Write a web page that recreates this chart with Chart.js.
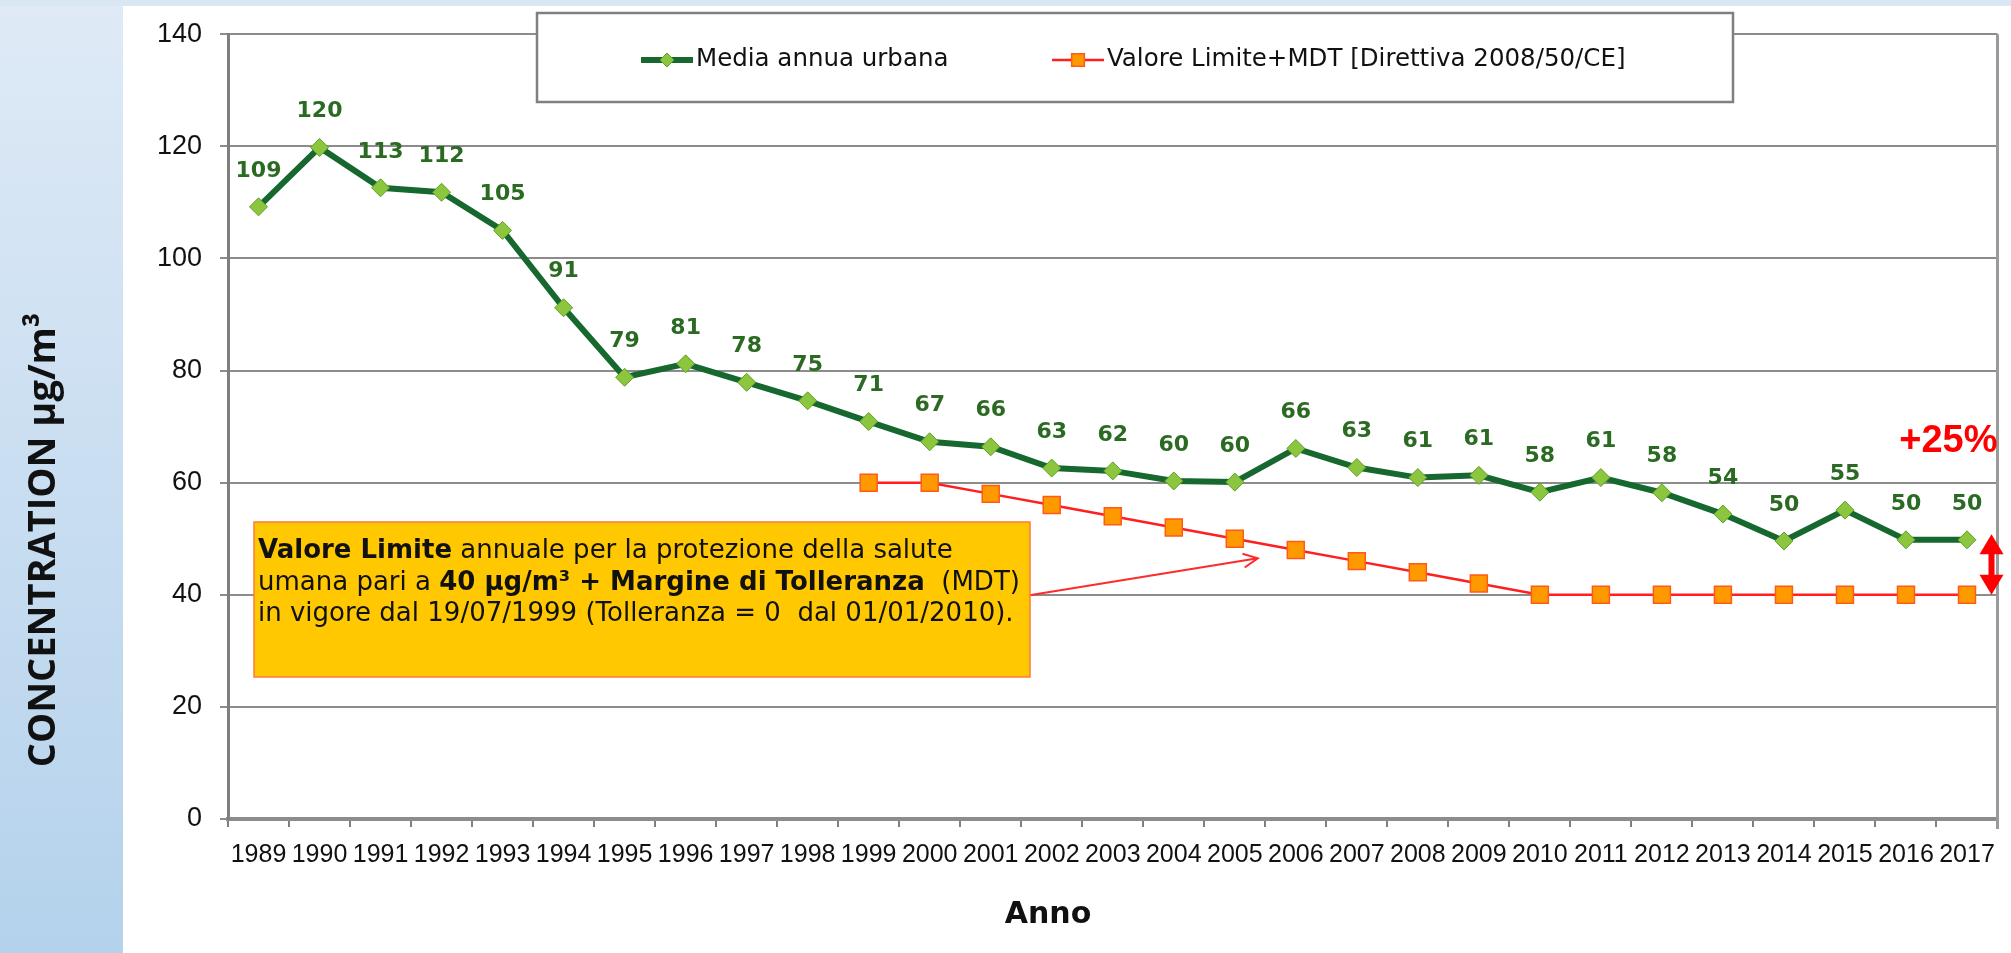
<!DOCTYPE html>
<html lang="it">
<head>
<meta charset="utf-8">
<title>Media annua urbana</title>
<script src="https://cdn.jsdelivr.net/npm/chart.js@4.4.1/dist/chart.umd.min.js"></script>
<style>
    html, body { margin: 0; padding: 0; background: #fff; }
    #grafico { display: block; }
</style>
</head>
<body>
<canvas id="grafico" width="2011" height="953"></canvas>
<script>
// Dati
const anni = ['1989', '1990', '1991', '1992', '1993', '1994', '1995', '1996', '1997', '1998',
    '1999', '2000', '2001', '2002', '2003', '2004', '2005', '2006', '2007', '2008',
    '2009', '2010', '2011', '2012', '2013', '2014', '2015', '2016', '2017'];

const mediaUrbana = [109.2, 119.8, 112.6, 111.8, 105.0, 91.2, 78.8, 81.2, 77.9, 74.6,
    70.9, 67.3, 66.4, 62.6, 62.1, 60.3, 60.1, 66.1, 62.7, 60.9,
    61.3, 58.3, 60.9, 58.2, 54.4, 49.6, 55.1, 49.8, 49.8];

const valoreLimite = [null, null, null, null, null, null, null, null, null, null,
    60, 60, 58, 56, 54, 52, 50, 48, 46, 44,
    42, 40, 40, 40, 40, 40, 40, 40, 40];

const tickY = [0, 20, 40, 60, 80, 100, 120, 140];

const titoloY = 'CONCENTRATION µg/m³';
const titoloX = 'Anno';

// Sfondo: banda azzurra a sinistra e in alto
const sfondo = {
    id: 'sfondo',
    beforeDraw(chart) {
        const ctx = chart.ctx;
        const w = chart.width, h = chart.height;
        ctx.save();
        ctx.fillStyle = '#ffffff';
        ctx.fillRect(0, 0, w, h);
        const g = ctx.createLinearGradient(0, 0, 0, h);
        g.addColorStop(0, '#dfeaf6');
        g.addColorStop(1, '#b4d2ec');
        ctx.fillStyle = g;
        ctx.fillRect(0, 0, 123, h);
        ctx.fillStyle = '#d9e7f4';
        ctx.fillRect(0, 0, w, 6);
        ctx.restore();
    }
};

// Etichette dei valori sulla serie verde
const etichette = {
    id: 'etichette',
    afterDatasetsDraw(chart) {
        const ctx = chart.ctx;
        const meta = chart.getDatasetMeta(0);
        ctx.save();
        ctx.font = 'bold 22px "DejaVu Sans"';
        ctx.fillStyle = '#2a6a22';
        ctx.textAlign = 'center';
        ctx.textBaseline = 'middle';
        meta.data.forEach((pt, i) => {
            ctx.fillText(String(Math.round(mediaUrbana[i])), pt.x, pt.y - 36);
        });
        ctx.restore();
    }
};

// Disegna una riga con pezzi in grassetto
function rigaMista(ctx, pezzi, x, y, size) {
    pezzi.forEach(p => {
        ctx.font = (p[0] ? 'bold ' : '') + size + 'px "DejaVu Sans"';
        ctx.fillText(p[1], x, y);
        x += ctx.measureText(p[1]).width;
    });
}

function freccia(ctx, x1, y1, x2, y2) {
    const ang = Math.atan2(y2 - y1, x2 - x1);
    const l = 16;
    ctx.beginPath();
    ctx.moveTo(x1, y1);
    ctx.lineTo(x2, y2);
    ctx.moveTo(x2 - l * Math.cos(ang - 0.45), y2 - l * Math.sin(ang - 0.45));
    ctx.lineTo(x2, y2);
    ctx.lineTo(x2 - l * Math.cos(ang + 0.45), y2 - l * Math.sin(ang + 0.45));
    ctx.stroke();
}

// Legenda, titoli, riquadro e frecce
const decorazioni = {
    id: 'decorazioni',
    afterDraw(chart) {
        const ctx = chart.ctx;
        const area = chart.chartArea;
        const sx = chart.scales.x, sy = chart.scales.y;
        ctx.save();

        // bordo destro dell'area
        ctx.strokeStyle = '#9a9a9a';
        ctx.lineWidth = 3;
        ctx.beginPath();
        ctx.moveTo(area.right, area.top);
        ctx.lineTo(area.right, area.bottom + 10);
        ctx.stroke();

        // titolo asse Y
        ctx.save();
        ctx.translate(44, 540);
        ctx.rotate(-Math.PI / 2);
        ctx.font = 'bold 38px "Open Sans"';
        ctx.fillStyle = '#111';
        ctx.textAlign = 'center';
        ctx.textBaseline = 'middle';
        ctx.fillText(titoloY, 0, 0);
        ctx.restore();

        // titolo asse X
        ctx.font = 'bold 30px "DejaVu Sans"';
        ctx.fillStyle = '#111';
        ctx.textAlign = 'center';
        ctx.textBaseline = 'middle';
        ctx.fillText(titoloX, 1048, 915);

        // legenda
        ctx.fillStyle = '#ffffff';
        ctx.fillRect(537, 13, 1196, 89);
        ctx.strokeStyle = '#808080';
        ctx.lineWidth = 2.5;
        ctx.strokeRect(537, 13, 1196, 89);
        const posLeg = [641, 1052];
        const raggi = [7, 9];
        chart.data.datasets.forEach((ds, i) => {
            const x0 = posLeg[i], y0 = 60;
            ctx.strokeStyle = ds.borderColor;
            ctx.lineWidth = ds.borderWidth;
            ctx.beginPath();
            ctx.moveTo(x0, y0);
            ctx.lineTo(x0 + 52, y0);
            ctx.stroke();
            ctx.fillStyle = ds.pointBackgroundColor;
            ctx.strokeStyle = ds.pointBorderColor;
            ctx.lineWidth = ds.pointBorderWidth;
            Chart.helpers.drawPoint(ctx, {
                pointStyle: ds.pointStyle, radius: raggi[i], rotation: 0, borderWidth: ds.pointBorderWidth
            }, x0 + 26, y0);
            ctx.fillStyle = '#111';
            ctx.font = '24.5px "DejaVu Sans"';
            ctx.textAlign = 'left';
            ctx.textBaseline = 'middle';
            ctx.fillText(ds.label, x0 + 55, y0);
        });

        // riquadro giallo
        ctx.fillStyle = '#ffc800';
        ctx.fillRect(254, 522, 776, 155);
        ctx.strokeStyle = '#ff7a3a';
        ctx.lineWidth = 1.5;
        ctx.strokeRect(254, 522, 776, 155);
        ctx.fillStyle = '#111';
        ctx.textAlign = 'left';
        ctx.textBaseline = 'middle';
        rigaMista(ctx, [[true, 'Valore Limite'], [false, ' annuale per la protezione della salute']], 258, 551, 26);
        rigaMista(ctx, [[false, 'umana pari a '], [true, '40 µg/m³ + Margine di Tolleranza'], [false, '  (MDT)']], 258, 583, 26);
        rigaMista(ctx, [[false, 'in vigore dal 19/07/1999 (Tolleranza = 0  dal 01/01/2010).']], 258, 614, 26);

        // freccia dal riquadro verso la serie rossa
        ctx.strokeStyle = '#ff2a2a';
        ctx.lineWidth = 2;
        const xt = sx.getPixelForValue(16) + 23;
        freccia(ctx, 1031, 595, xt, sy.getPixelForValue(46.5));

        // +25%
        ctx.fillStyle = '#ff0000';
        ctx.font = 'bold 38px "Liberation Sans"';
        ctx.textAlign = 'right';
        ctx.textBaseline = 'alphabetic';
        ctx.fillText('+25%', area.right, 452);

        // doppia freccia tra limite e ultimo valore
        const xa = area.right - 6;
        const yTop = sy.getPixelForValue(50.8);
        const yBot = sy.getPixelForValue(40);
        const hw = 12, hl = 20;
        ctx.fillStyle = '#ff0000';
        ctx.fillRect(xa - 3, yTop + hl - 1, 6, yBot - yTop - 2 * hl + 2);
        ctx.beginPath();
        ctx.moveTo(xa, yTop);
        ctx.lineTo(xa + hw, yTop + hl);
        ctx.lineTo(xa - hw, yTop + hl);
        ctx.closePath();
        ctx.fill();
        ctx.beginPath();
        ctx.moveTo(xa, yBot);
        ctx.lineTo(xa + hw, yBot - hl);
        ctx.lineTo(xa - hw, yBot - hl);
        ctx.closePath();
        ctx.fill();

        ctx.restore();
    }
};

const canvas = document.getElementById('grafico');
new Chart(canvas, {
    type: 'line',
    data: {
        labels: anni,
        datasets: [{
            label: 'Media annua urbana',
            data: mediaUrbana,
            borderColor: '#17682f',
            borderWidth: 6,
            pointStyle: 'rectRot',
            pointRadius: 9,
            pointBackgroundColor: '#8cc63f',
            pointBorderColor: '#5f9f2a',
            pointBorderWidth: 1,
            tension: 0
        }, {
            label: 'Valore Limite+MDT [Direttiva 2008/50/CE]',
            data: valoreLimite,
            borderColor: '#ff1f1f',
            borderWidth: 2.5,
            pointStyle: 'rect',
            pointRadius: 12,
            pointBackgroundColor: '#ff9900',
            pointBorderColor: '#ff5a1a',
            pointBorderWidth: 1.5,
            tension: 0
        }]
    },
    options: {
        responsive: false,
        animation: false,
        layout: { padding: { top: 27, right: 13, left: 0, bottom: 0 } },
        plugins: {
            legend: { display: false },
            tooltip: { enabled: false }
        },
        scales: {
            x: {
                offset: true,
                grid: { offset: true, drawOnChartArea: false, drawTicks: true, tickLength: 8, color: '#808080', lineWidth: 2 },
                border: { color: '#8c8c8c', width: 4 },
                ticks: { autoSkip: false, maxRotation: 0, padding: 13, color: '#111', font: { family: 'Liberation Sans', size: 25 } },
                afterFit(scale) { scale.height = 953 - 819; }
            },
            y: {
                min: 0,
                max: 140,
                afterBuildTicks(scale) { scale.ticks = tickY.map(v => ({ value: v })); },
                grid: { color: '#8c8c8c', lineWidth: 2, tickLength: 8 },
                border: { color: '#7f7f7f', width: 3 },
                ticks: { padding: 18, color: '#111', font: { family: 'Liberation Sans', size: 27 } },
                afterFit(scale) { scale.width = 228; }
            }
        }
    },
    plugins: [sfondo, etichette, decorazioni]
});
</script>
</body>
</html>
